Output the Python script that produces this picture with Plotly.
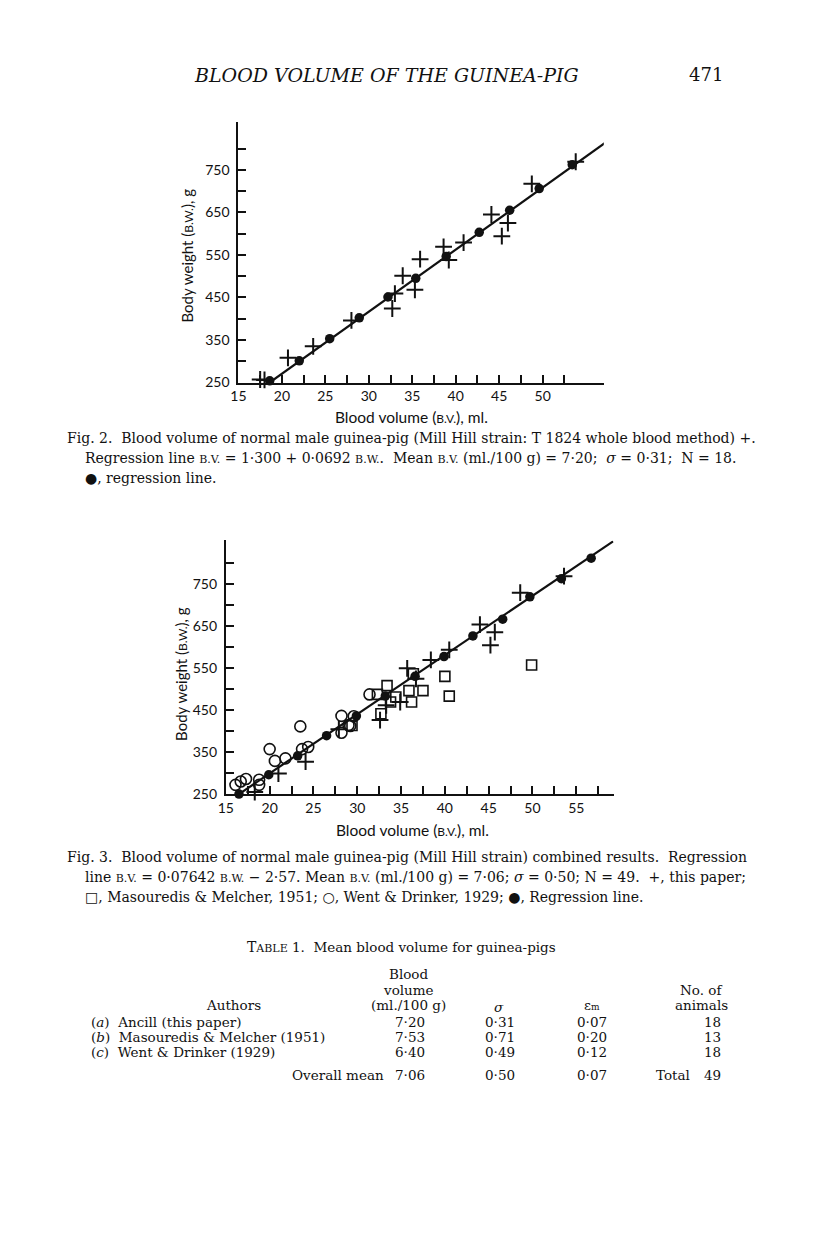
import plotly.graph_objects as go

W, H = 816, 1233

# Fig. 2 -- this paper (+), regression points (filled dots), regression line
FIG2_PLUS_BV = [17.5, 18.0, 20.7, 23.6, 28.0, 32.7, 33.0, 33.9, 35.3, 35.9,
                38.6, 39.2, 40.9, 44.1, 45.3, 46.0, 48.75, 53.8]
FIG2_PLUS_BW = [257, 256, 308, 335, 396, 424, 459, 501, 468, 540,
                569, 538, 579, 645, 594, 625, 717, 769]
FIG2_DOT_BV = [18.6, 22.0, 25.5, 28.9, 32.2, 35.4, 38.9, 42.7, 46.2, 49.6, 53.4]
FIG2_DOT_BW = [254, 301, 353, 402, 451, 495, 546, 603, 655, 706, 762]
FIG2_LINE_BV = [18.6, 57.3]
FIG2_LINE_BW = [250, 815]

# Fig. 3 -- combined results
FIG3_PLUS_BV = [18.3, 21.0, 24.1, 27.9, 32.6, 33.3, 34.9, 35.7, 36.7, 38.4,
                40.5, 44.0, 45.2, 45.7, 48.6, 53.6]
FIG3_PLUS_BW = [255, 299, 327, 404, 426, 461, 469, 549, 524, 569,
                593, 653, 604, 635, 729, 768]
FIG3_SQ_BV = [29.4, 32.3, 32.7, 33.4, 33.8, 34.4, 35.9, 36.2, 36.4, 37.5, 40.0, 40.5, 49.9]
FIG3_SQ_BW = [413, 487, 441, 508, 469, 481, 496, 469, 536, 496, 530, 483, 557]
FIG3_CIRC_BV = [16.1, 16.7, 17.3, 18.8, 18.8, 20.0, 20.6, 21.8, 23.5, 23.7,
                24.4, 28.2, 28.2, 29.2, 29.6, 31.4, 29.0]
FIG3_CIRC_BW = [272, 280, 286, 284, 272, 357, 329, 335, 411, 357,
                362, 436, 396, 412, 435, 487, 414]
FIG3_DOT_BV = [16.5, 19.9, 23.2, 26.5, 29.9, 33.2, 36.6, 39.9, 43.2, 46.6, 49.7, 53.3, 56.7]
FIG3_DOT_BW = [250, 296, 341, 389, 436, 483, 530, 577, 626, 666, 719, 762, 811]
FIG3_LINE_BV = [16.5, 59.2]
FIG3_LINE_BW = [250, 851]

# tick labels
FIG2_XTICKS = [15, 20, 25, 30, 35, 40, 45, 50]
FIG2_XMINOR = [17.5, 22.5, 27.5, 32.5, 37.5, 42.5, 47.5, 52.5]
FIG3_XTICKS = [15, 20, 25, 30, 35, 40, 45, 50, 55]
FIG3_XMINOR = [17.5, 22.5, 27.5, 32.5, 37.5, 42.5, 47.5, 52.5, 57.5]
YTICKS = [250, 350, 450, 550, 650, 750]
YMINOR = [300, 400, 500, 600, 700, 800]

# Table 1
T_AUTHORS = ["(<i>a</i>)  Ancill (this paper)",
             "(<i>b</i>)  Masouredis & Melcher (1951)",
             "(<i>c</i>)  Went & Drinker (1929)"]
T_BV = ["7·20", "7·53", "6·40"]
T_SIGMA = ["0·31", "0·71", "0·49"]
T_EM = ["0·07", "0·20", "0·12"]
T_N = ["18", "13", "18"]
T_OVERALL = ["7·06", "0·50", "0·07", "49"]

SERIF = "DejaVu Serif"
SANS = "Lato"
INK = "#111111"


def px(x):
    return x / W


def py(y):
    return 1 - y / H


def sc(t, size=10):
    return f'<span style="font-size:{size}px">{t}</span>'


fig = go.Figure()

plus = dict(symbol="cross-thin", size=12, line=dict(width=2, color=INK), color=INK)
dot = dict(symbol="circle", size=9.5, color=INK)

# ---- Fig 2
fig.add_trace(go.Scatter(x=FIG2_LINE_BV, y=FIG2_LINE_BW, mode="lines",
                         line=dict(color=INK, width=2.2), xaxis="x", yaxis="y"))
fig.add_trace(go.Scatter(x=FIG2_PLUS_BV, y=FIG2_PLUS_BW, mode="markers", marker=plus,
                         cliponaxis=False, xaxis="x", yaxis="y"))
fig.add_trace(go.Scatter(x=FIG2_DOT_BV, y=FIG2_DOT_BW, mode="markers", marker=dot,
                         cliponaxis=False, xaxis="x", yaxis="y"))

# ---- Fig 3
fig.add_trace(go.Scatter(x=FIG3_LINE_BV, y=FIG3_LINE_BW, mode="lines",
                         line=dict(color=INK, width=2.2), xaxis="x2", yaxis="y2"))
fig.add_trace(go.Scatter(x=FIG3_CIRC_BV, y=FIG3_CIRC_BW, mode="markers",
                         marker=dict(symbol="circle-open", size=11, color=INK,
                                     line=dict(width=1.6, color=INK)),
                         cliponaxis=False, xaxis="x2", yaxis="y2"))
fig.add_trace(go.Scatter(x=FIG3_SQ_BV, y=FIG3_SQ_BW, mode="markers",
                         marker=dict(symbol="square-open", size=10, color=INK,
                                     line=dict(width=1.6, color=INK)),
                         cliponaxis=False, xaxis="x2", yaxis="y2"))
fig.add_trace(go.Scatter(x=FIG3_PLUS_BV, y=FIG3_PLUS_BW, mode="markers", marker=plus,
                         cliponaxis=False, xaxis="x2", yaxis="y2"))
fig.add_trace(go.Scatter(x=FIG3_DOT_BV, y=FIG3_DOT_BW, mode="markers", marker=dot,
                         cliponaxis=False, xaxis="x2", yaxis="y2"))

axis_common = dict(showline=True, linewidth=2, linecolor=INK, ticks="inside", ticklen=8,
                   tickwidth=2, tickcolor=INK, showgrid=False, zeroline=False,
                   tickfont=dict(family=SANS, size=14, color=INK), fixedrange=True)


def minor(vals):
    return dict(tickvals=vals, ticks="inside", ticklen=8, tickwidth=2, tickcolor=INK, showgrid=False)


fig.update_layout(
    xaxis=dict(domain=[px(232.7), px(601.7)], range=[15, 57.03], anchor="y",
               tickvals=FIG2_XTICKS, minor=minor(FIG2_XMINOR), **axis_common),
    yaxis=dict(domain=[py(385), py(123)], range=[250, 862], anchor="x",
               tickvals=YTICKS, minor=minor(YMINOR), ticklabelstandoff=4, **axis_common),
    xaxis2=dict(domain=[px(220), px(611.7)], range=[15, 59.27], anchor="y2",
                tickvals=FIG3_XTICKS, minor=minor(FIG3_XMINOR), **axis_common),
    yaxis2=dict(domain=[py(799.3), py(544)], range=[250, 853], anchor="x2",
                tickvals=YTICKS, minor=minor(YMINOR), ticklabelstandoff=4, **axis_common),
)

ann = []


def text(x, y, s, size=14, family=SERIF, xanchor="left", angle=0):
    ann.append(dict(x=px(x), y=py(y), xref="paper", yref="paper", text=s, showarrow=False,
                    xanchor=xanchor, yanchor="middle", textangle=angle,
                    font=dict(family=family, size=size, color=INK)))


# running head
text(382, 75, "<i>BLOOD VOLUME OF THE GUINEA-PIG</i>", size=19, xanchor="center")
text(724, 75, "471", size=18, xanchor="right")

# axis titles
ytitle = "Body weight (" + sc("B.W.", 12) + "), g"
xtitle = "Blood volume (" + sc("B.V.", 12) + "), ml."
text(181, 257, ytitle, size=15, family=SANS, xanchor="center", angle=-90)
text(407, 420, xtitle, size=15.5, family=SANS, xanchor="center")
text(174, 678, ytitle, size=15, family=SANS, xanchor="center", angle=-90)
text(408, 835, xtitle, size=15.5, family=SANS, xanchor="center")

BV = sc("B.V.", 11)
BW = sc("B.W.", 11)

# Fig 2 caption
text(58, 441, "Fig. 2.  Blood volume of normal male guinea-pig (Mill Hill strain: T 1824 whole blood method) +.")
text(76, 461, f"Regression line {BV} = 1·300 + 0·0692 {BW}.  Mean {BV} (ml./100 g) = 7·20;  <i>σ</i> = 0·31;  N = 18.")
text(76, 481, "●, regression line.")

# Fig 3 caption
text(58, 863, "Fig. 3.  Blood volume of normal male guinea-pig (Mill Hill strain) combined results.  Regression")
text(76, 883, f"line {BV} = 0·07642 {BW} − 2·57. Mean {BV} (ml./100 g) = 7·06; <i>σ</i> = 0·50; N = 49.  +, this paper;")
text(76, 903, "□, Masouredis & Melcher, 1951; ○, Went & Drinker, 1929; ●, Regression line.")

# Table 1
TS = 13.5
text(397, 953, sc("T", 14) + sc("ABLE", 11) + " 1.  Mean blood volume for guinea-pigs", size=TS, xanchor="center")
text(404, 980, "Blood", size=TS, xanchor="center")
text(404, 996, "volume", size=TS, xanchor="center")
text(404, 1012, "(ml./100 g)", size=TS, xanchor="center")
text(228, 1012, "Authors", size=TS, xanchor="center")
text(496, 1014, "<i>σ</i>", size=TS, xanchor="center")
text(590, 1012, "ε" + sc("m", 9), size=TS, xanchor="center")
text(700, 996, "No. of", size=TS, xanchor="center")
text(700, 1012, "animals", size=TS, xanchor="center")

row_y = [1029, 1044, 1059]
for i, yy in enumerate(row_y):
    text(82, yy, T_AUTHORS[i], size=TS)
    text(406, yy, T_BV[i], size=TS, xanchor="center")
    text(497, yy, T_SIGMA[i], size=TS, xanchor="center")
    text(590, yy, T_EM[i], size=TS, xanchor="center")
    text(711, yy, T_N[i], size=TS, xanchor="center")

text(382, 1082, "Overall mean", size=TS, xanchor="right")
text(406, 1082, T_OVERALL[0], size=TS, xanchor="center")
text(497, 1082, T_OVERALL[1], size=TS, xanchor="center")
text(590, 1082, T_OVERALL[2], size=TS, xanchor="center")
text(652, 1082, "Total", size=TS)
text(711, 1082, T_OVERALL[3], size=TS, xanchor="center")

fig.update_layout(
    annotations=ann,
    width=W, height=H,
    margin=dict(l=0, r=0, t=0, b=0),
    paper_bgcolor="white", plot_bgcolor="white",
    showlegend=False,
)

# page body has a default 8px margin; drop it so the figure sits at the page origin
fig.write_html("out.html", config={"displayModeBar": False},
               post_script="document.body.style.margin='0';document.body.style.overflow='hidden';")
